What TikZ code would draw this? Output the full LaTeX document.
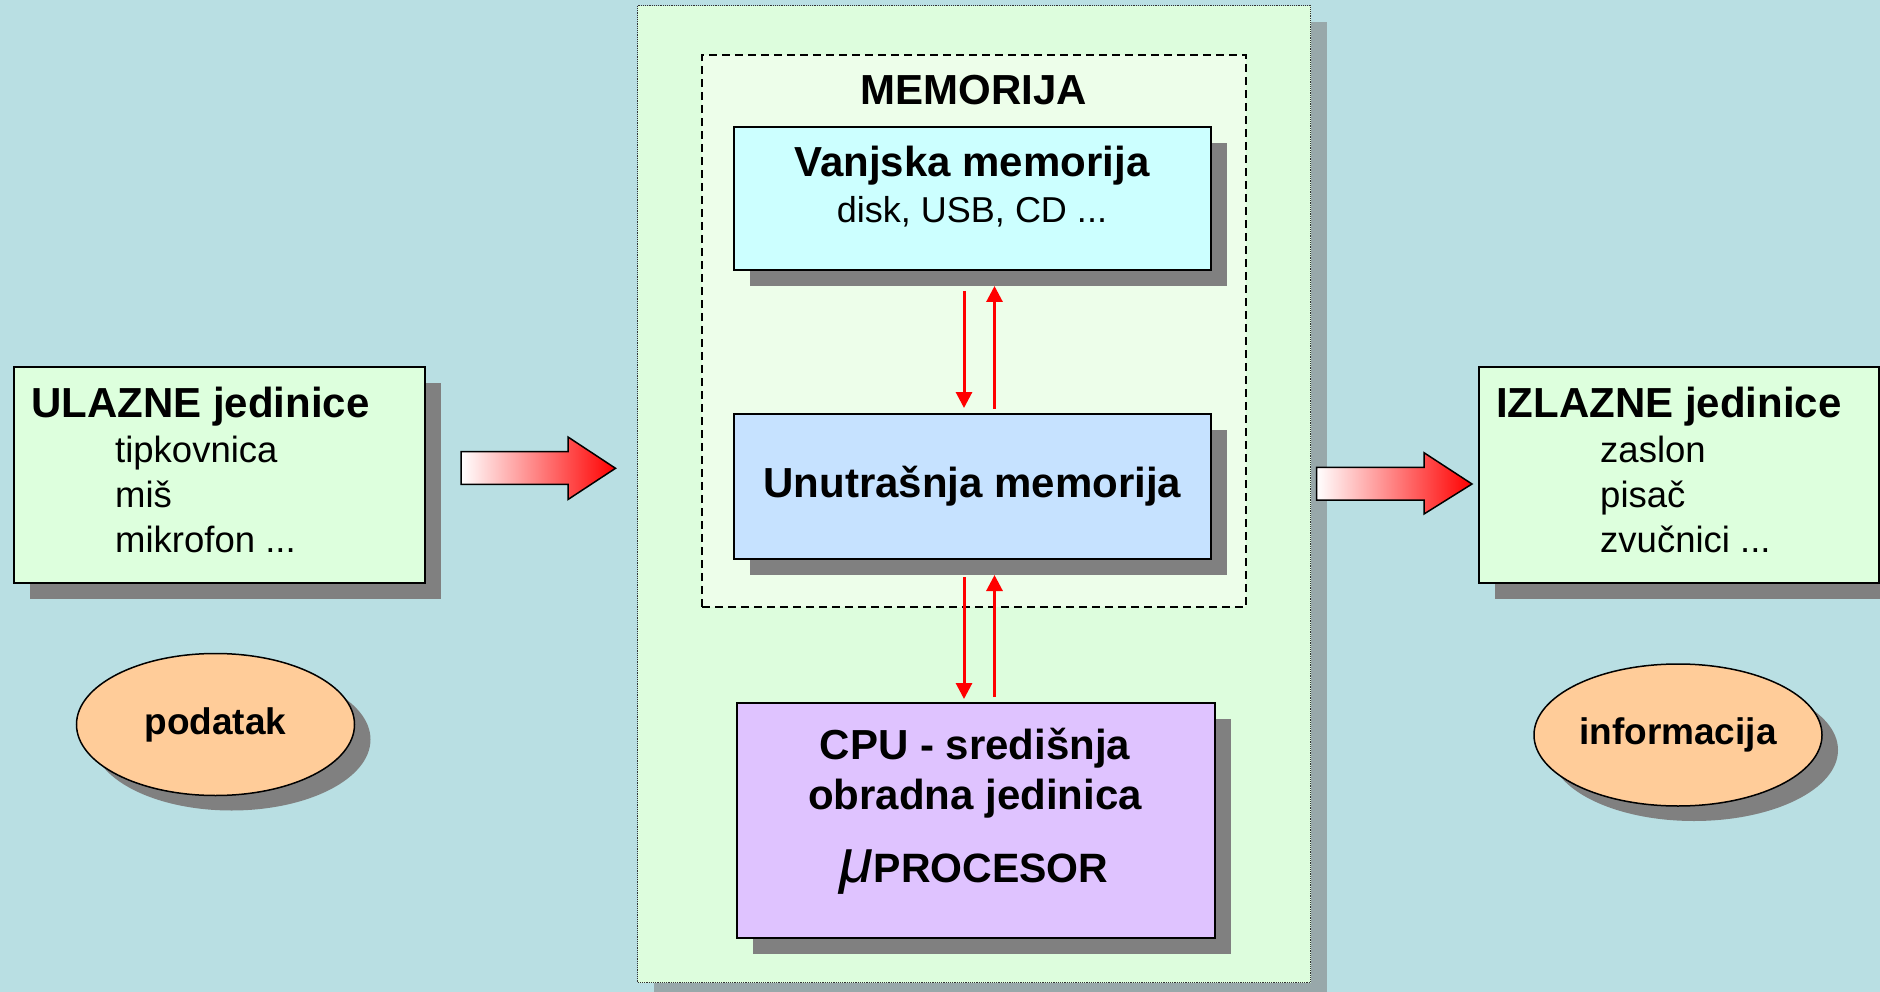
\documentclass[tikz,border=0pt]{standalone}
\usepackage{fontspec}
\setmainfont{Liberation Sans}
\usetikzlibrary{arrows.meta,shapes.geometric,shadows}
\definecolor{bgblue}{HTML}{B9DFE3}
\definecolor{panelgreen}{HTML}{DDFDDD}
\definecolor{memgreen}{HTML}{EDFEEA}
\definecolor{boxgreen}{HTML}{DDFFDD}
\definecolor{cyanbox}{HTML}{CCFFFF}
\definecolor{bluebox}{HTML}{C6E2FF}
\definecolor{lilac}{HTML}{DFC3FF}
\definecolor{peach}{HTML}{FFCC99}
\definecolor{shadowgray}{HTML}{808080}
\definecolor{panelshadow}{HTML}{98A8AA}
\begin{document}
\begin{tikzpicture}[x=1pt,y=-1pt,
  shadowed/.style={drop shadow={shadow xshift=16pt,shadow yshift=-16pt,fill=shadowgray,opacity=1}},
  box/.style={draw=black,line width=2pt,rectangle,inner sep=0pt,anchor=north west,shadowed},
  oval/.style={draw=black,line width=1.5pt,ellipse,inner sep=0pt,fill=peach,
     drop shadow={shadow xshift=16pt,shadow yshift=-15pt,fill=shadowgray,opacity=1},
     font=\fontsize{37pt}{44pt}\selectfont\bfseries},
  titletext/.style={inner sep=0pt,font=\fontsize{42pt}{48pt}\selectfont\bfseries},
  itemtext/.style={inner sep=0pt,anchor=base west,font=\fontsize{36.5pt}{44pt}\selectfont},
  redarr/.style={draw=red,line width=3pt,-{Triangle[width=16pt,length=16pt]}},
  blockarrow/.style={left color=white,right color=red,draw=black,line width=1.5pt}
]
\useasboundingbox (0,0) rectangle (1880,992);
\fill[bgblue] (0,0) rectangle (1880,992);

% central panel
\node[draw=black!80,densely dotted,line width=1.2pt,fill=panelgreen,rectangle,inner sep=0pt,anchor=north west,
      minimum width=673pt,minimum height=977pt,
      drop shadow={shadow xshift=16pt,shadow yshift=-16pt,fill=panelshadow,opacity=1}] (panel) at (637,5) {};

% memory dashed box
\node[draw=black,dashed,dash pattern=on 8pt off 5pt,line width=1.8pt,fill=memgreen,rectangle,inner sep=0pt,anchor=north west,
      minimum width=544pt,minimum height=552pt] (mem) at (701,54) {};
\node[titletext,anchor=base] (memlabel) at (974,105) {MEMORIJA};

% Vanjska memorija
\node[box,fill=cyanbox,minimum width=477pt,minimum height=143pt] (vanj) at (733,126) {};
\node[titletext,anchor=base] (vanjt) at (972,177) {Vanjska memorija};
\node[inner sep=0pt,anchor=base,font=\fontsize{36pt}{44pt}\selectfont] (vanjs) at (972,223) {disk, USB, CD ...};

% Unutrasnja memorija
\node[box,fill=bluebox,minimum width=477pt,minimum height=145pt,font=\fontsize{42pt}{48pt}\selectfont\bfseries] (unut) at (733,413) {Unutrašnja memorija};

% CPU
\node[box,fill=lilac,minimum width=478pt,minimum height=235pt] (cpu) at (736,702) {};
\node[titletext,anchor=base] (cpu1) at (975,759) {CPU - središnja};
\node[titletext,anchor=base] (cpu2) at (975,809) {obradna jedinica};
\node[inner sep=0pt,anchor=base,font=\fontsize{41pt}{48pt}\selectfont\bfseries] (cpu3) at (974,882)
   {{\fontsize{62pt}{62pt}\selectfont\mdseries\itshape μ}PROCESOR};

% red arrows
\draw[redarr] ([xshift=-8.5pt,yshift=-20pt]vanj.south) -- ([xshift=-8.5pt,yshift=5pt]unut.north);
\draw[redarr] ([xshift=22pt,yshift=4.5pt]unut.north) -- ([xshift=22pt,yshift=-15pt]vanj.south);
\draw[redarr] ([xshift=-8.5pt,yshift=-17pt]unut.south) -- ([xshift=-12pt,yshift=3pt]cpu.north);
\draw[redarr] ([xshift=18.5pt,yshift=5pt]cpu.north) -- ([xshift=22pt,yshift=-15pt]unut.south);

% input box
\node[box,fill=boxgreen,minimum width=411pt,minimum height=216pt] (ulaz) at (12.5,366) {};
\node[titletext,anchor=base west] (ulazt) at (31,417) {ULAZNE jedinice};
\node[itemtext] (u1) at (115,462) {tipkovnica};
\node[itemtext] (u2) at (115,507) {miš};
\node[itemtext] (u3) at (115,552) {mikrofon ...};

% output box
\node[box,fill=boxgreen,minimum width=400pt,minimum height=216pt] (izlaz) at (1478,366) {};
\node[titletext,anchor=base west] (izlazt) at (1496,417) {IZLAZNE jedinice};
\node[itemtext] (i1) at (1600,462) {zaslon};
\node[itemtext] (i2) at (1600,507) {pisač};
\node[itemtext] (i3) at (1600,552) {zvučnici ...};

% block arrows
\shade[blockarrow] (461,451.7) -- (568,451.7) -- (568,437) -- (615.5,468.3) -- (568,499.5) -- (568,484.3) -- (461,484.3) -- cycle;
\shade[blockarrow] (1316.6,467.3) -- (1424,467.3) -- (1424,452.7) -- (1472,484) -- (1424,514) -- (1424,500) -- (1316.6,500) -- cycle;

% ellipses
\node[oval,minimum width=278pt,minimum height=142pt] (podatak) at (215.5,724.5) {podatak};
\node[oval,minimum width=288pt,minimum height=142pt] (info) at (1678,735) {informacija};
\end{tikzpicture}
\end{document}
